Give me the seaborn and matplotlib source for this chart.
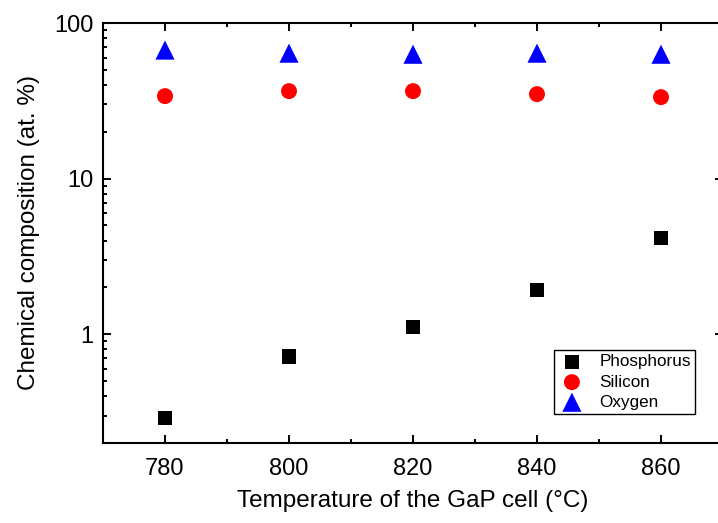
import matplotlib
matplotlib.use("Agg")
import matplotlib.pyplot as plt
import seaborn as sns
import pandas as pd
import numpy as np
from matplotlib.ticker import FixedLocator, LogLocator, NullFormatter, FixedFormatter

temperature = [780, 800, 820, 840, 860]
phosphorus = [0.29, 0.72, 1.11, 1.92, 4.14]
silicon = [33.9, 36.5, 36.5, 34.9, 33.4]
oxygen = [67, 64, 63, 64, 63]

sns.set_style("white")
plt.rcParams['font.family'] = ['Liberation Sans', 'DejaVu Sans']
plt.rcParams['text.color'] = 'black'
plt.rcParams['axes.labelcolor'] = 'black'
plt.rcParams['xtick.color'] = 'black'
plt.rcParams['ytick.color'] = 'black'

fig = plt.figure(figsize=(7.18, 5.23), dpi=100)
ax = fig.add_axes([103/718, 1-443/523, (723-103)/718, (443-23)/523])

series = [
    ("Phosphorus", phosphorus, "s", "black", 110),
    ("Silicon", silicon, "o", "#ff0000", 132),
    ("Oxygen", oxygen, "^", "#0000ff", 190),
]
for name, vals, mk, col, sz in series:
    df = pd.DataFrame({"T": temperature, "v": vals})
    sns.scatterplot(data=df, x="T", y="v", marker=mk, color=col, s=sz,
                    edgecolor="none", linewidth=0, label=name, ax=ax, zorder=3)

ax.set_yscale("log")
ax.set_xlim(770, 870)
ax.set_ylim(0.2, 100)
ax.xaxis.set_major_locator(FixedLocator([780, 800, 820, 840, 860]))
ax.xaxis.set_minor_locator(FixedLocator([790, 810, 830, 850]))
ax.yaxis.set_major_locator(FixedLocator([1, 10, 100]))
ax.yaxis.set_major_formatter(FixedFormatter(["1", "10", "100"]))
ax.yaxis.set_minor_locator(LogLocator(base=10, subs=np.arange(2, 10)))
ax.yaxis.set_minor_formatter(NullFormatter())

for sp in ax.spines.values():
    sp.set_visible(True)
    sp.set_color("black")
    sp.set_linewidth(1.5)

ax.tick_params(which="both", direction="in", bottom=True, left=True,
               top=True, right=True,
               color="black", width=1.4, labelsize=17, labelcolor="black")
ax.tick_params(which="major", length=6)
ax.tick_params(which="minor", length=3)
ax.tick_params(axis="x", pad=11)
ax.tick_params(axis="y", pad=7)

ax.set_xlabel("Temperature of the GaP cell (°C)", fontsize=17.5, labelpad=7)
ax.set_ylabel("Chemical composition (at. %)", fontsize=17.5, labelpad=10)

leg = ax.legend(loc="lower right", bbox_to_anchor=(695/718, 1-414/523),
                bbox_transform=fig.transFigure, fontsize=12.3, frameon=True,
                fancybox=False, edgecolor="black", framealpha=1,
                borderpad=0.25, labelspacing=0.3, handletextpad=0.8,
                handlelength=1.6, borderaxespad=0)
leg.get_frame().set_linewidth(1.0)
for h, (_, _, _, _, sz) in zip(leg.legend_handles, series):
    h.set_sizes([sz])

fig.savefig("out.png", dpi=100)
